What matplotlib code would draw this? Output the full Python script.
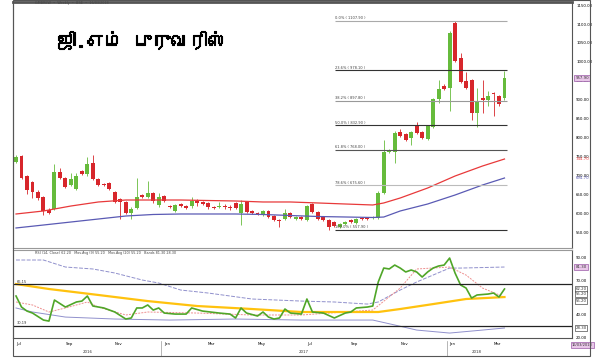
import numpy as np
import pandas as pd
import matplotlib
matplotlib.use("Agg")
import matplotlib.pyplot as plt
import matplotlib.patheffects as pe
from matplotlib import font_manager
from matplotlib.ft2font import FT2Font

# weekly candles, Jul 2016 - Mar 2018
opens = [736.8, 752.6, 700.0, 684.2, 657.9, 644.7, 610.5, 613.2, 710.5, 694.7,
         676.3, 665.8, 713.2, 705.3, 734.2, 692.1, 679.0, 681.6, 657.9, 639.5,
         631.6, 602.6, 615.8, 650.0, 644.7, 655.3, 623.7, 647.4, 621.0, 607.9,
         626.3, 621.0, 621.0, 634.2, 631.6, 629.0, 618.4, 618.4, 621.0, 618.4,
         629.0, 602.6, 631.6, 607.9, 602.6, 597.4, 607.9, 594.7, 584.2, 586.8,
         602.6, 586.8, 592.1, 584.2, 626.3, 605.3, 592.1, 584.2, 578.9, 565.8,
         573.7, 584.2, 576.3, 589.5, 589.5, 589.5, 589.5, 655.3, 763.2, 763.2,
         815.8, 810.5, 800.0, 831.6, 815.8, 797.4, 829.0, 902.6, 936.8, 931.6,
         1102.6, 1010.5, 950.0, 952.6, 865.8, 905.3, 900.0, 918.4, 910.5, 905.3]
highs = [755.3, 755.3, 702.6, 686.8, 663.2, 647.4, 615.8, 731.6, 721.0, 697.4,
         708.0, 708.0, 715.8, 750.0, 755.3, 694.7, 681.6, 684.2, 660.5, 642.1,
         634.2, 618.4, 694.7, 652.6, 686.8, 657.9, 655.3, 650.0, 623.7, 626.3,
         629.0, 623.7, 644.7, 639.5, 634.2, 631.6, 621.0, 631.6, 626.3, 623.7,
         631.6, 636.8, 634.2, 610.5, 605.3, 610.5, 610.5, 597.4, 586.8, 613.2,
         605.3, 594.7, 594.7, 623.7, 629.0, 607.9, 594.7, 586.8, 581.6, 576.3,
         581.6, 586.8, 589.5, 592.1, 592.1, 594.7, 660.5, 794.7, 771.0, 818.4,
         823.7, 813.2, 818.4, 842.1, 818.4, 834.2, 905.3, 952.6, 942.1, 1081.6,
         1107.9, 1023.7, 973.7, 955.3, 931.6, 952.6, 923.7, 921.0, 913.2, 976.3]
lows = [734.2, 692.1, 652.6, 642.1, 636.8, 597.4, 600.0, 610.5, 692.1, 668.4,
        673.7, 663.2, 702.6, 700.0, 689.5, 673.7, 673.7, 663.2, 629.0, 586.8,
        600.0, 586.8, 613.2, 642.1, 642.1, 629.0, 618.4, 631.6, 615.8, 605.3,
        618.4, 613.2, 615.8, 621.0, 623.7, 613.2, 613.2, 615.8, 613.2, 610.5,
        613.2, 571.0, 602.6, 600.0, 597.4, 594.7, 589.5, 581.6, 565.8, 584.2,
        589.5, 584.2, 584.2, 581.6, 602.6, 584.2, 581.6, 557.9, 565.8, 563.2,
        571.0, 576.3, 573.7, 584.2, 584.2, 586.8, 586.8, 652.6, 760.5, 734.2,
        802.6, 792.1, 781.6, 810.5, 797.4, 794.7, 826.3, 892.1, 926.3, 871.0,
        1000.0, 944.7, 929.0, 847.4, 829.0, 865.8, 884.2, 857.9, 884.2, 900.0]
closes = [750.0, 694.7, 663.2, 657.9, 642.1, 607.9, 602.6, 710.5, 694.7, 671.0,
          692.1, 700.0, 705.3, 731.6, 692.1, 676.3, 676.3, 665.8, 631.6, 631.6,
          602.6, 613.2, 644.7, 644.7, 655.3, 634.2, 644.7, 634.2, 618.4, 623.7,
          621.0, 615.8, 634.2, 629.0, 626.3, 618.4, 615.8, 621.0, 618.4, 615.8,
          615.8, 626.3, 605.3, 602.6, 600.0, 607.9, 592.1, 584.2, 581.6, 602.6,
          592.1, 592.1, 586.8, 621.0, 605.3, 586.8, 584.2, 565.8, 568.4, 573.7,
          578.9, 578.9, 586.8, 586.8, 586.8, 592.1, 655.3, 763.2, 768.4, 813.2,
          805.3, 794.7, 815.8, 813.2, 800.0, 831.6, 902.6, 929.0, 929.0, 1076.0,
          1002.6, 947.4, 931.6, 865.8, 894.7, 900.0, 910.5, 915.8, 889.5, 957.9]

# moving averages (read at sample weeks)
ma_weeks = [0, 5, 10, 15, 20, 25, 30, 35, 40, 45, 50, 55, 60, 65, 67, 70, 75, 80, 85, 89]
ma_red = [600.0, 607.9, 621.0, 631.6, 636.8, 636.8, 636.8, 635.5, 634.2, 631.6,
          631.6, 629.0, 626.3, 623.7, 629.0, 642.1, 668.4, 700.0, 726.3, 744.7]
ma_blue = [563.2, 571.0, 578.9, 586.8, 594.7, 598.7, 600.0, 600.0, 600.0, 598.7,
           596.0, 593.4, 592.1, 590.8, 592.0, 607.9, 626.3, 650.0, 676.3, 694.7]

fib_levels = [0.0, 23.6, 38.2, 50.0, 61.8, 78.6, 100.0]
fib_colors = ['#aaaaaa', '#333333', '#999999', '#333333', '#555555', '#bbbbbb', '#333333']

# lower panel
rsi_weeks = [0, 1, 2, 3, 5, 6, 7, 9, 11, 12, 13, 14, 16, 18, 20, 21, 22, 23, 24, 25,
             26, 27, 29, 31, 32, 34, 37, 39, 40, 41, 42, 44, 45, 46, 47, 48, 49, 50,
             52, 53, 54, 56, 58, 60, 61, 62, 64, 65, 66, 67, 68, 69, 70, 71, 72, 73,
             74, 75, 76, 77, 78, 79, 80, 81, 82, 83, 84, 85, 86, 87, 88, 89]
rsi_vals = [56.1, 46.5, 43.0, 41.3, 35.2, 34.3, 52.6, 46.5, 50.9, 51.7, 56.1, 47.4,
            45.7, 42.2, 36.1, 37.0, 45.7, 45.7, 48.3, 43.9, 45.7, 41.3, 40.4, 40.4,
            45.7, 43.0, 41.3, 40.4, 37.0, 45.7, 41.3, 38.7, 42.2, 37.8, 36.1, 37.0,
            44.8, 41.3, 40.4, 53.5, 42.2, 41.3, 37.0, 41.3, 42.2, 45.7, 46.5, 47.4,
            68.3, 80.4, 79.6, 83.0, 80.4, 77.0, 78.7, 77.0, 72.6, 77.0, 80.4, 82.2,
            83.0, 89.1, 76.0, 65.7, 63.0, 54.3, 57.0, 57.4, 57.8, 58.7, 55.2, 62.2]
slow_weeks = [0, 6, 15, 24, 33, 43, 52, 58, 66, 70, 76, 82, 89]
slow_vals = [66.5, 62.2, 57.0, 51.7, 47.4, 44.8, 42.2, 42.2, 42.2, 44.8, 49.1, 53.5, 55.2]
up_weeks = [0, 5, 9, 14, 18, 23, 26, 30, 35, 43, 52, 58, 64, 66, 70, 73, 79, 81, 89]
up_vals = [87.4, 87.4, 81.3, 79.6, 76.1, 70.0, 67.4, 61.3, 58.7, 53.5, 51.7, 50.9,
           49.1, 50.9, 61.3, 68.3, 80.4, 80.4, 81.3]
low_weeks = [0, 3, 9, 18, 28, 40, 52, 65, 69, 73, 79, 85, 89]
low_vals = [45.7, 42.2, 37.8, 36.1, 35.2, 36.1, 35.2, 35.2, 30.9, 26.5, 23.9, 26.5, 28.3]
sig_weeks = [0, 3, 6, 9, 13, 15, 20, 24, 33, 43, 52, 65, 70, 73, 79, 82, 85, 89]
sig_vals = [50.9, 48.3, 42.2, 45.7, 50.9, 46.5, 39.6, 42.2, 41.3, 39.6, 39.6, 43.9,
            63.0, 79.6, 81.3, 74.3, 63.0, 55.2]
rsi_lines = [66.15, 30.19]

dates = pd.date_range('2016-07-01', periods=len(closes), freq='W-FRI')

GREEN = '#66bb3c'
RED = '#d7262b'


def tamil_font():
    for f in font_manager.fontManager.ttflist:
        try:
            if 0x0B9C in FT2Font(f.fname).get_charmap():
                return f.name
        except Exception:
            pass
    return 'DejaVu Sans'


W, H = 600, 358


def box(l, t, r, b):
    return [l / W, 1 - b / H, (r - l) / W, (b - t) / H]


fig = plt.figure(figsize=(6, 3.58), dpi=100)
ax = fig.add_axes(box(13, 2, 572, 248))
ax2 = fig.add_axes(box(13, 250, 572, 338), sharex=ax)

x = np.arange(len(closes))
o, h, l, c = map(np.array, (opens, highs, lows, closes))
col = np.where(c >= o, GREEN, RED)
ax.vlines(x, l, h, colors=col, lw=0.6)
ax.bar(x, np.maximum(np.abs(c - o), 1.8), bottom=np.minimum(o, c), width=0.72,
       color=col, lw=0)

ax.plot(ma_weeks, ma_red, color='#e8393a', lw=0.9)
ax.plot(ma_weeks, ma_blue, color='#5a5ab4', lw=0.9)

# fibonacci retracement
hi, lo = max(highs), min(lows)
for lvl, fc in zip(fib_levels, fib_colors):
    v = hi - (hi - lo) * lvl / 100
    ax.hlines(v, 58.1, 89.5, color=fc, lw=0.8)
    ax.text(58.1, v + 2, f"{lvl:.1f}% ( {v:.2f} )", fontsize=2.6, color='#444',
            va='bottom')

ax.set_xlim(-0.55, 101.3)
ax.set_ylim(510.5, 1157.9)
ax.yaxis.tick_right()
ticks = np.arange(550, 1151, 50)
ax.set_yticks(ticks)
ax.set_yticklabels([f"{t:.2f}" for t in ticks], fontsize=2.8)
ax.tick_params(axis='y', length=0, pad=3)
ax.tick_params(axis='x', length=0, labelbottom=False)

lab = dict(fontsize=2.8, va='center', ha='left', transform=ax.get_yaxis_transform())
ax.text(1.006, closes[-1], f"{closes[-1]:.2f}", color='#333',
        bbox=dict(boxstyle='square,pad=0.25', fc='#e8c6e8', ec='#9a5aa8', lw=0.5), **lab)
ax.text(1.006, ma_red[-1], f"{ma_red[-1]:.2f}", color='#e8393a', **lab)
ax.text(1.006, ma_blue[-1], f"{ma_blue[-1]:.2f}", color='#5a5ab4', **lab)

# lower panel
ax2.plot(low_weeks, low_vals, color='#9090cc', lw=0.7)
ax2.plot(up_weeks, up_vals, color='#9090cc', lw=0.7, dashes=(4, 1.5))
ax2.plot(sig_weeks, sig_vals, color='#ee9090', lw=0.7, dashes=(2, 1.2))
ax2.plot(slow_weeks, slow_vals, color='#ffc20e', lw=1.6)
ax2.plot(rsi_weeks, rsi_vals, color='#4fa628', lw=1.2)
for v in rsi_lines:
    ax2.axhline(v, color='#222', lw=0.9)
    ax2.text(0.2, v + 0.8, f"{v:.2f}", fontsize=2.6, color='#333', va='bottom')
ax2.text(0.04, 0.985, f"RSI (14, Close) {rsi_vals[-1]:.2f}   Mov.Avg (9) {sig_vals[-1]:.2f}"
         f"   Mov.Avg (20) {slow_vals[-1]:.2f}   Bands {up_vals[-1]:.2f} {low_vals[-1]:.2f}",
         transform=ax2.transAxes, fontsize=2.4, color='#444', va='top')
ax2.set_ylim(19.6, 96.1)
ax2.yaxis.tick_right()
ax2.set_yticks([20, 40, 70, 90])
ax2.set_yticklabels(['20.00', '40.00', '70.00', '90.00'], fontsize=2.8)
ax2.tick_params(axis='y', length=0, pad=3)
lab2 = dict(fontsize=2.8, va='center', ha='left', transform=ax2.get_yaxis_transform(),
            bbox=dict(boxstyle='square,pad=0.2', fc='white', ec='#222', lw=0.4))
ax2.text(1.006, up_vals[-1], f"{up_vals[-1]:.2f}", color='#333',
         **{**lab2, 'bbox': dict(boxstyle='square,pad=0.25', fc='#e8c6e8', ec='#9a5aa8', lw=0.5)})
ax2.text(1.006, rsi_vals[-1], f"{rsi_vals[-1]:.2f}", color='#333', **lab2)
ax2.text(1.006, slow_vals[-1] + 2.5, f"{slow_vals[-1]:.2f}", color='#333', **lab2)
ax2.text(1.006, sig_vals[-1] - 3.5, f"{sig_vals[-1]:.2f}", color='#333', **lab2)
ax2.text(1.006, low_vals[-1], f"{low_vals[-1]:.2f}", color='#333', **lab2)

# month / year axis
mticks = [i for i in range(len(dates)) if (i == 0 or dates[i].month != dates[i - 1].month)
          and dates[i].month in (1, 3, 5, 7, 9, 11)]
ax2.set_xticks(mticks)
ax2.set_xticklabels([dates[i].strftime('%b') for i in mticks], fontsize=2.8, ha='left')
ax2.tick_params(axis='x', length=0, pad=3)
years = sorted(set(dates.year))
for yr in years:
    idx = np.where(dates.year == yr)[0]
    ax2.text((idx[0] + idx[-1]) / 2, -0.16, str(yr), transform=ax2.get_xaxis_transform(),
             fontsize=2.8, ha='center', va='center', color='#333')
    if idx[0] > 0:
        ax2.plot([idx[0] - 0.5] * 2, [-0.03, -0.2], transform=ax2.get_xaxis_transform(),
                 color='#999', lw=0.5, clip_on=False)
ax2.text(1.0, -0.06, dates[-1].strftime('%d/%m/%Y'), transform=ax2.transAxes,
         fontsize=2.6, ha='left', va='top', color='#333',
         bbox=dict(boxstyle='square,pad=0.25', fc='#e8c6e8', ec='#9a5aa8', lw=0.5))

for a in (ax, ax2):
    for s in a.spines.values():
        s.set_color('#555')
        s.set_linewidth(0.8)
ax.spines['top'].set_linewidth(2)
ax.spines['bottom'].set_color('#999')
ax2.spines['top'].set_color('#999')

# outer frame
fig.add_artist(plt.Rectangle((13 / W, 1 - 356 / H), 577 / W, 356 / H,
                             transform=fig.transFigure, fill=False, ec='#555', lw=0.8))

fig.text(35 / W, 1 - 3 / H, 'GMBREW  \u2022  Weekly  \u2022  BSE  \u2022  16/03/2018',
         fontsize=2.4, color='#444', va='center')
fig.text(57 / W, 1 - 40 / H, 'ஜி.எம் புருவரிஸ்', fontsize=13.5, fontweight='bold',
         family=tamil_font(), va='center',
         path_effects=[pe.withStroke(linewidth=0.8, foreground='black')])

fig.savefig('out.png', dpi=100)
